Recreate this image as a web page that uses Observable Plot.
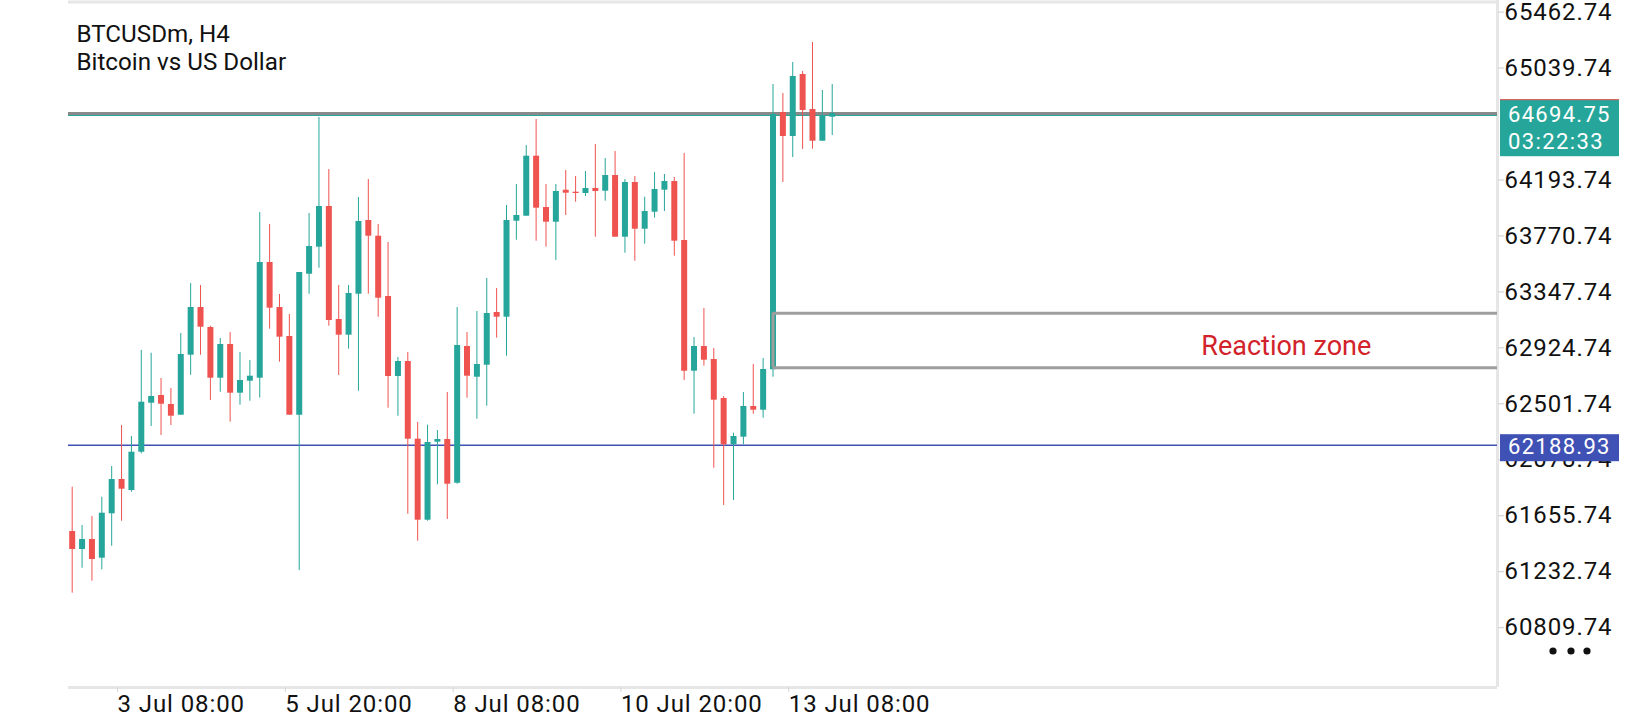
<!DOCTYPE html>
<html>
<head>
<meta charset="utf-8">
<script src="https://cdn.jsdelivr.net/npm/d3@7"></script>
<script src="https://cdn.jsdelivr.net/npm/@observablehq/plot@0.6"></script>
<style>
html, body { margin: 0; padding: 0; background: #ffffff; }
#chart svg { display: block; }
g[aria-label="y-axis tick label"] { letter-spacing: 0.9px; }
g[aria-label="x-axis tick label"] { letter-spacing: 0.9px; }
</style>
</head>
<body>
<div id="chart"></div>
<script>
// ---- data (BTCUSDm, H4) ----
const opens = [61536.6,61400.5,61476.1,61334.7,61670.4,61929.6,61846.5,62136.0,62506.4,62564.6,
  62496.6,62415.7,62869.2,63229.8,63078.6,62695.4,62950.1,62582.0,62672.7,62695.4,
  63569.9,63229.8,63010.6,62415.7,63481.5,63685.6,63993.2,63139.1,63020.4,63330.3,
  63887.4,63768.7,63312.9,62708.2,62821.6,62234.3,61622.0,62211.6,62232.0,61901.7,
  62935.0,62702.9,62793.6,63192.0,63156.5,63882.1,63919.9,64373.5,63985.7,63874.6,
  64116.4,64101.4,64091.5,64129.3,64108.9,64227.6,63761.2,64174.7,63821.6,63950.2,
  64116.4,64182.2,63736.2,62748.3,62935.0,62836.7,62541.9,62191.9,62249.4,62481.5,
  62453.5,62758.9,64703.8,64522.4,64991.0,64726.5,64486.8,64668.3];
const highs = [61871.5,61581.9,61650.0,61795.8,62027.9,62337.8,62254.7,62904.7,62884.3,62693.1,
  62617.5,63033.3,63411.2,63396.1,63088.4,62995.5,63040.8,62889.6,62829.2,63947.9,
  63857.2,63328.1,63176.9,63494.4,63940.3,64666.0,64272.9,63396.1,63396.1,64061.3,
  64197.3,63857.2,63721.1,62851.8,62889.6,62360.5,62340.1,62300.0,62587.3,63229.8,
  63040.8,63199.6,63449.0,63373.4,64000.8,64159.5,64454.3,64650.9,64159.5,64159.5,
  64265.4,64220.0,64257.8,64461.9,64356.1,64409.0,64197.3,64220.0,64063.5,64250.3,
  64235.1,64212.4,64393.9,63003.0,63222.2,62919.9,62557.0,62279.6,62587.3,62798.9,
  62844.3,64915.4,64847.4,65081.7,65013.7,65232.9,64870.1,64915.4];
const lows = [61070.2,61259.1,61160.9,61247.0,61425.5,61614.4,61833.6,62123.9,62330.3,62262.2,
  62337.8,62415.7,62718.0,62869.2,62526.8,62589.5,62362.8,62491.3,62521.5,62545.7,
  63065.8,62816.3,62415.7,61241.8,63330.3,63526.8,63088.4,62715.8,62914.6,62597.1,
  63330.3,63156.5,62468.6,62408.1,61667.3,61463.3,61614.4,61889.6,61627.3,61894.1,
  62544.2,62385.4,62483.7,62997.7,62861.6,63738.5,63919.9,63731.0,63685.6,63585.1,
  63925.2,64025.7,64068.8,63761.2,64033.3,63761.2,63640.2,63579.8,63708.3,63904.8,
  63955.4,63617.6,62678.0,62423.2,62786.1,62015.1,61733.1,61770.9,62191.9,62423.2,
  62393.0,62702.9,64174.7,64363.6,64424.1,64426.4,64486.8,64529.9];
const closes = [61400.5,61476.1,61324.9,61674.9,61929.6,61856.3,62136.0,62514.0,62557.0,62498.8,
  62408.1,62874.5,63229.8,63080.9,62695.4,62950.1,62582.0,62678.0,62710.5,63569.9,
  63224.5,63005.3,62415.7,63494.4,63690.9,63993.2,63131.5,63020.4,63335.6,63879.9,
  63768.7,63300.1,62708.2,62821.6,62234.3,61622.0,62209.3,62232.0,61894.1,62942.5,
  62710.5,62798.9,63184.4,63156.5,63887.4,63925.2,64373.5,63980.4,63874.6,64106.6,
  64093.8,64091.5,64129.3,64106.6,64227.6,63761.2,64174.7,63821.6,63955.4,64121.7,
  64182.2,63731.0,62748.3,62935.0,62831.4,62529.1,62191.9,62254.7,62481.5,62453.5,
  62761.1,64688.7,64522.4,64975.9,64718.9,64486.8,64673.6,64694.75];

const xTickIndex  = [5, 22, 39, 56, 73];
const xTickLabels = ["3 Jul 08:00", "5 Jul 20:00", "8 Jul 08:00", "10 Jul 20:00", "13 Jul 08:00"];
const yTicks = [65462.74, 65039.74, 64193.74, 63770.74, 63347.74,
                62924.74, 62501.74, 62078.74, 61655.74, 61232.74, 60809.74];

const currentPrice = 64694.75;
const currentTimer = "03:22:33";
const supportLevel = 62188.93;
const zoneHigh = 63186.7;
const zoneLow = 62774.0;
const zoneStartIndex = 71;
const zoneLabel = "Reaction zone";
const zoneLabelIndex = 123;
const zoneLabelPrice = 62935;
const symbolTitle = "BTCUSDm, H4";
const symbolName = "Bitcoin vs US Dollar";

// ---- build table ----
const candles = opens.map((o, i) => ({
  i, open: o, high: highs[i], low: lows[i], close: closes[i],
  up: closes[i] >= o
}));

const GREEN = "#26a69a", RED = "#ef5350", BLUE = "#3f51b5";
const xDomain = [-0.375, 144.4];
const yDomain = [60357.4, 65550.4];

const chart = Plot.plot({
  width: 1640,
  height: 720,
  marginLeft: 68,
  marginRight: 143,
  marginTop: 0,
  marginBottom: 33,
  x: {type: "linear", domain: xDomain},
  y: {type: "linear", domain: yDomain},
  style: {fontFamily: "Roboto, sans-serif", background: "#ffffff", overflow: "visible"},
  marks: [
    // frame (top, right, bottom)
    Plot.ruleY([yDomain[1]], {stroke: "#e6e6e6", strokeWidth: 3, dy: 1.5}),
    Plot.ruleY([yDomain[0]], {stroke: "#e6e6e6", strokeWidth: 3}),
    Plot.ruleX([xDomain[1]], {stroke: "#e6e6e6", strokeWidth: 3}),

    // horizontal levels
    Plot.ruleY([supportLevel], {stroke: BLUE, strokeWidth: 1.5}),
    Plot.ruleY([currentPrice], {stroke: "#8a8a8a", strokeWidth: 3, dy: -0.2}),
    Plot.ruleY([currentPrice], {stroke: GREEN, strokeWidth: 1, dy: 1.8}),

    // candles
    Plot.ruleX(candles, {x: "i", y1: "low", y2: "high", stroke: d => d.up ? GREEN : RED, strokeWidth: 1}),
    Plot.ruleX(candles, {x: "i", y1: "open", y2: "close", stroke: d => d.up ? GREEN : RED, strokeWidth: 6}),

    // reaction zone
    Plot.ruleY([zoneHigh, zoneLow], {x1: zoneStartIndex, x2: xDomain[1], stroke: "#9e9e9e", strokeWidth: 3}),
    Plot.ruleX([zoneStartIndex], {y1: zoneLow, y2: zoneHigh, stroke: "#9e9e9e", strokeWidth: 3}),
    Plot.text([{x: zoneLabelIndex, y: zoneLabelPrice, t: zoneLabel}],
      {x: "x", y: "y", text: "t", fill: "#d2222a", fontSize: 27, textAnchor: "middle"}),

    // title
    Plot.text([symbolTitle + "\n" + symbolName], {
      text: d => d, frameAnchor: "top-left", textAnchor: "start", lineAnchor: "top",
      dx: 8, dy: 22, fontSize: 24.2, lineHeight: 1.15, fill: "#111"
    }),

    // axes
    Plot.axisY(yTicks, {
      anchor: "right", tickSize: 6, tickPadding: 1, stroke: "#cfcfcf", fill: "#111",
      fontSize: 24, tickFormat: d => d.toFixed(2)
    }),
    Plot.axisX(xTickIndex, {
      anchor: "bottom", tickSize: 5, tickPadding: 2, stroke: "#d6d6d6", fill: "#111",
      fontSize: 24, textAnchor: "start", dx: -4,
      tickFormat: d => xTickLabels[xTickIndex.indexOf(d)]
    })
  ]
});

document.getElementById("chart").appendChild(chart);

// price chips on the right axis, positioned through the chart's own y scale
const ys = chart.scale("y");
const svg = d3.select(chart);
const frameRight = 1640 - 143;
const chips = svg.append("g").attr("font-family", "Roboto, sans-serif").attr("text-anchor", "start");

const yCur = ys.apply(currentPrice);
chips.append("rect").attr("x", frameRight + 3).attr("y", yCur - 14).attr("width", 119).attr("height", 57).attr("fill", GREEN);
chips.append("line").attr("x1", frameRight + 3).attr("x2", frameRight + 122).attr("y1", yCur - 13.5).attr("y2", yCur - 13.5).attr("stroke", RED).attr("stroke-width", 1);
chips.append("text").attr("x", frameRight + 11).attr("y", yCur + 1.5).attr("dy", "0.35em")
  .attr("fill", "#fff").attr("font-size", 22).attr("letter-spacing", "1.3px").text(currentPrice.toFixed(2));
chips.append("text").attr("x", frameRight + 11).attr("y", yCur + 28).attr("dy", "0.35em")
  .attr("fill", "#fff").attr("font-size", 22).attr("letter-spacing", "1.4px").text(currentTimer);

const ySup = ys.apply(supportLevel);
chips.append("rect").attr("x", frameRight + 3).attr("y", ySup - 10.5).attr("width", 119).attr("height", 27).attr("fill", BLUE);
chips.append("text").attr("x", frameRight + 11).attr("y", ySup + 2).attr("dy", "0.35em")
  .attr("fill", "#fff").attr("font-size", 22).attr("letter-spacing", "1.3px").text(supportLevel.toFixed(2));

// menu dots
[56, 74, 90].forEach(dx => chips.append("circle").attr("cx", frameRight + dx).attr("cy", 651).attr("r", 3.6).attr("fill", "#111"));
</script>
</body>
</html>
